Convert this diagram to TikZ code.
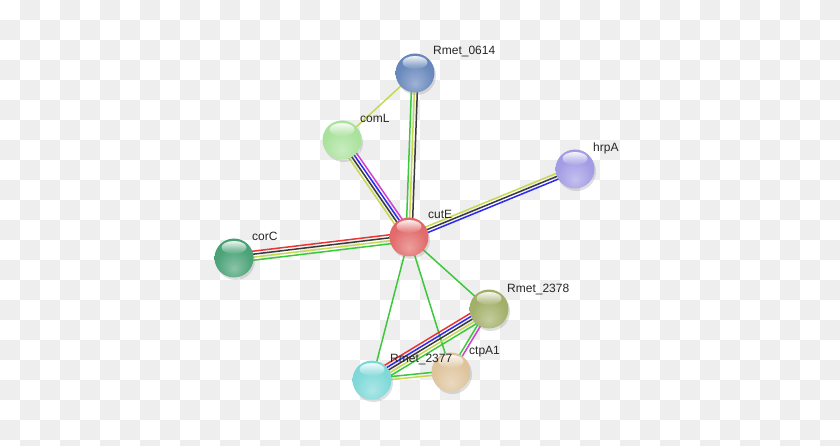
\documentclass[tikz,border=0pt]{standalone}
\usepackage{fontspec}
\setmainfont{Liberation Sans}
\usetikzlibrary{calc,shadows,fadings}
\definecolor{checkgray}{HTML}{EEEEEE}
\definecolor{sgreen}{HTML}{3CC83C}
\definecolor{syellow}{HTML}{C4D850}
\definecolor{sblack}{HTML}{3A3A3A}
\definecolor{sblue}{HTML}{2A2AF0}
\definecolor{sred}{HTML}{E83434}
\definecolor{smag}{HTML}{D040D0}
\definecolor{cRed}{HTML}{E06060}
\definecolor{cBlue}{HTML}{5E80B8}
\definecolor{cLgreen}{HTML}{A4E096}
\definecolor{cLav}{HTML}{9C96E2}
\definecolor{cDgreen}{HTML}{3E9C6E}
\definecolor{cOlive}{HTML}{9CAA5E}
\definecolor{cTan}{HTML}{DCC096}
\definecolor{cCyan}{HTML}{76D6D6}
\colorlet{sphbase}{red}
\pgfdeclareradialshading[sphbase]{sphshade}{\pgfpoint{0bp}{-14bp}}{%
  color(0bp)=(sphbase!60!white);
  color(22bp)=(sphbase!92!white);
  color(42bp)=(sphbase);
  color(54bp)=(sphbase!78!black);
  color(66bp)=(sphbase!60!black)}
\newcommand\eline[4]{\draw[edgeline,#4] ($(#1)!#3!90:(#2)$) -- ($(#2)!#3!-90:(#1)$);}
\newcommand\sphnode[3]{%
  \colorlet{sphbase}{#3}%
  \node[prot] (#1) at (#2) {};
  \fill[white,path fading=south,fill opacity=0.9] ($(#1.center)+(0,-10.5)$) ellipse [x radius=12.5, y radius=6.5];}
\begin{document}
\begin{tikzpicture}[x=1pt,y=-1pt,
  edgeline/.style={line width=1.5pt},
  prot/.style={circle,minimum size=39pt,inner sep=0pt,shading=sphshade,
    drop shadow={shadow xshift=1.5pt,shadow yshift=-2.5pt,opacity=0.25}},
  lbl/.style={anchor=base west,inner sep=0pt,font=\fontsize{12}{14}\selectfont,text=black!85}]
\useasboundingbox (0,0) rectangle (840,446);
\clip (0,0) rectangle (840,446);
\foreach \x in {20,60,...,820} \foreach \y in {0,40,...,440} \fill[checkgray] (\x,\y) rectangle ++(20,20);
\foreach \x in {0,40,...,800} \foreach \y in {20,60,...,420} \fill[checkgray] (\x,\y) rectangle ++(20,20);
% node centers
\coordinate (pcutE) at (409,237);
\coordinate (p0614) at (415,73);
\coordinate (pcomL) at (342,140);
\coordinate (phrpA) at (575,169);
\coordinate (pcorC) at (234,258);
\coordinate (p2378) at (489,309);
\coordinate (pctpA) at (451,372);
\coordinate (p2377) at (372,380);
% edges
\eline{pcutE}{p0614}{3pt}{sgreen}
\eline{pcutE}{p0614}{0pt}{syellow}
\eline{pcutE}{p0614}{-3pt}{sblack}
\eline{pcutE}{pcomL}{4.5pt}{syellow}
\eline{pcutE}{pcomL}{1.5pt}{sblack}
\eline{pcutE}{pcomL}{-1.5pt}{sblue}
\eline{pcutE}{pcomL}{-4.5pt}{smag}
\eline{pcomL}{p0614}{0pt}{syellow}
\eline{pcutE}{phrpA}{3pt}{syellow}
\eline{pcutE}{phrpA}{0pt}{sblack}
\eline{pcutE}{phrpA}{-3pt}{sblue}
\eline{pcutE}{pcorC}{4.5pt}{sgreen}
\eline{pcutE}{pcorC}{1.5pt}{syellow}
\eline{pcutE}{pcorC}{-1.5pt}{sblack}
\eline{pcutE}{pcorC}{-4.5pt}{sred}
\eline{pcutE}{p2377}{0pt}{sgreen}
\eline{pcutE}{pctpA}{0pt}{sgreen}
\eline{pcutE}{p2378}{0pt}{sgreen}
\eline{p2377}{p2378}{6pt}{sred}
\eline{p2377}{p2378}{3pt}{sblue}
\eline{p2377}{p2378}{0pt}{sblack}
\eline{p2377}{p2378}{-3pt}{syellow}
\eline{p2377}{p2378}{-6pt}{sgreen}
\eline{p2378}{pctpA}{1.5pt}{smag}
\eline{p2378}{pctpA}{-1.5pt}{sgreen}
\eline{p2377}{pctpA}{1.5pt}{sgreen}
\eline{p2377}{pctpA}{-1.5pt}{syellow}
% proteins
\sphnode{n0614}{p0614}{cBlue}
\sphnode{ncomL}{pcomL}{cLgreen}
\sphnode{nhrpA}{phrpA}{cLav}
\sphnode{ncorC}{pcorC}{cDgreen}
\sphnode{n2378}{p2378}{cOlive}
\sphnode{n2377}{p2377}{cCyan}
\sphnode{nctpA}{pctpA}{cTan}
\sphnode{ncutE}{pcutE}{cRed}
% labels
\node[lbl] (l0614) at (433,55) {Rmet\_0614};
\node[lbl] (lcomL) at (360,123) {comL};
\node[lbl] (lhrpA) at (593,152) {hrpA};
\node[lbl] (lcutE) at (428,219) {cutE};
\node[lbl] (lcorC) at (252,241) {corC};
\node[lbl] (l2378) at (507,292) {Rmet\_2378};
\node[lbl] (lctpA) at (469,354) {ctpA1};
\node[lbl] (l2377) at (390,362) {Rmet\_2377};
\end{tikzpicture}
\end{document}
